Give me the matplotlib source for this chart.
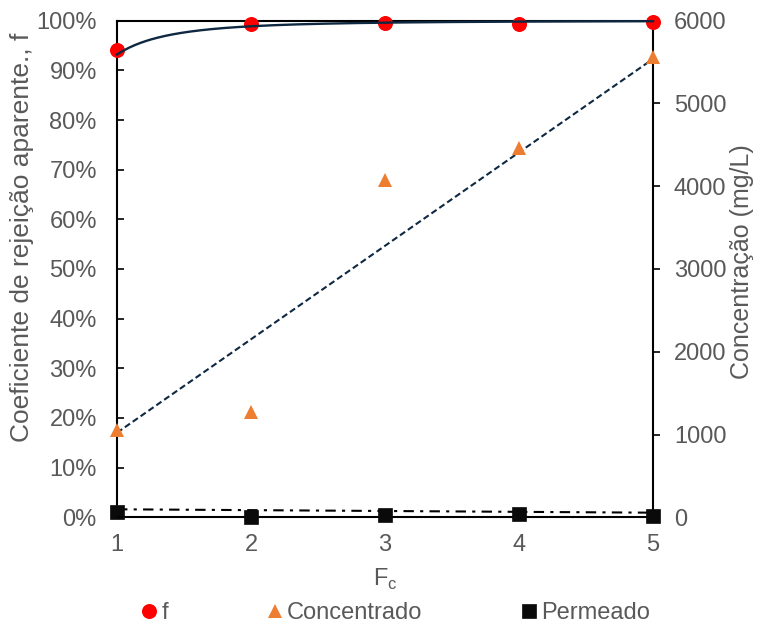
import numpy as np
import matplotlib
matplotlib.use("Agg")
import matplotlib.pyplot as plt
from matplotlib.lines import Line2D

plt.rcParams["font.family"] = ["Liberation Sans", "DejaVu Sans"]
plt.rcParams["mathtext.fontset"] = "custom"
plt.rcParams["mathtext.rm"] = "Liberation Sans"

# --- data -------------------------------------------------------------
fc = [1, 2, 3, 4, 5]
rejeicao_f = [0.941, 0.993, 0.996, 0.993, 0.998]       # left axis (fraction)
concentrado = [1050, 1270, 4075, 4460, 5565]          # mg/L, right axis
permeado = [62, 8, 28, 34, 18]                         # mg/L, right axis

# trendline coefficients
f_trend_a, f_trend_n = 0.068, 2.6          # f = 1 - a * Fc**(-n)
conc_trend_slope, conc_trend_icpt = 1129.0, -107.0
perm_trend_slope, perm_trend_icpt = -10.25, 107.0

pct_ticks = np.arange(0, 1.001, 0.1)
conc_ticks = np.arange(0, 6001, 1000)

# --- style ------------------------------------------------------------
GRAY = "#595959"
NAVY = "#0E2841"
RED = "#FF0000"
ORANGE = "#ED7D31"
BLACK_SQ = "#0A0A0A"
FS = 17

fig = plt.figure(figsize=(7.64, 6.30), dpi=100)
ax = fig.add_axes([117 / 764, 1 - 517.3 / 630, (653 - 117) / 764, (517.3 - 20.7) / 630])
ax2 = ax.twinx()
ax.set_zorder(2)
ax2.set_zorder(1)
ax.patch.set_visible(False)

xs = np.linspace(min(fc), max(fc), 300)

# right axis: concentrations
ax2.plot(xs, conc_trend_slope * xs + conc_trend_icpt, ls=(0, (3, 1.6)), lw=1.5,
         color=NAVY, zorder=2)
ax2.plot(xs, perm_trend_slope * xs + perm_trend_icpt, ls=(0, (5, 3, 1.5, 3)), lw=1.5,
         color="black", zorder=2)
ax2.plot(fc, concentrado, ls="none", marker="^", ms=10.6, mfc=ORANGE, mec=ORANGE,
         mew=0, clip_on=False, zorder=4)
ax2.plot(fc, permeado, ls="none", marker="s", ms=10.4, mfc=BLACK_SQ, mec=BLACK_SQ,
         mew=0.5, clip_on=False, zorder=4)

# left axis: rejection coefficient
ax.plot(fc, rejeicao_f, ls="none", marker="o", ms=10.8, mfc=RED, mec=RED, mew=0,
        clip_on=False, zorder=3)
ax.plot(xs, 1 - f_trend_a * xs ** (-f_trend_n), color=NAVY, lw=1.7,
        clip_on=False, zorder=5)

ax.set_xlim(1, 5)
ax.set_ylim(0, 1)
ax2.set_ylim(0, 6000)

ax.set_xticks(fc)
ax.set_xticklabels([str(v) for v in fc])
ax.set_yticks(pct_ticks)
ax.set_yticklabels([f"{int(round(v * 100))}%" for v in pct_ticks])
ax2.set_yticks(conc_ticks)
ax2.set_yticklabels([str(int(v)) for v in conc_ticks])

ax.tick_params(axis="x", length=0, pad=12, labelsize=FS, labelcolor=GRAY)
ax.tick_params(axis="y", direction="in", length=5, width=1.2, color="black",
               pad=14.5, labelsize=FS, labelcolor=GRAY)
ax2.tick_params(axis="y", direction="out", length=5, width=1.2, color="black",
                pad=10, labelsize=FS, labelcolor=GRAY)

for s in ["left", "right", "bottom"]:
    ax.spines[s].set_visible(False)
ax.spines["top"].set_linewidth(1.5)
ax2.spines["top"].set_visible(False)
for s in ["left", "right", "bottom"]:
    ax2.spines[s].set_linewidth(1.5)
    ax2.spines[s].set_color("black")

# axis titles
fig.text(22 / 764, 1 - 237 / 630, "Coeficiente de rejeição aparente., f", rotation=90,
         ha="center", va="center", fontsize=19, color=GRAY)
fig.text(742 / 764, 1 - 262 / 630, "Concentração (mg/L)", rotation=90,
         ha="center", va="center", fontsize=18, color=GRAY)
fig.text(385 / 764, 1 - 579 / 630, r"F$_\mathregular{c}$", ha="center", va="center",
         fontsize=FS, color=GRAY)

handles = [
    Line2D([], [], ls="none", marker="o", ms=10.8, mfc=RED, mec=RED, mew=0),
    Line2D([], [], ls="none", marker="^", ms=10.6, mfc=ORANGE, mec=ORANGE, mew=0),
    Line2D([], [], ls="none", marker="s", ms=10.4, mfc=BLACK_SQ, mec=BLACK_SQ, mew=0.5),
]
leg = fig.legend(handles, ["f", "Concentrado", "Permeado"], ncol=3, frameon=False,
                 loc="center", bbox_to_anchor=(395.5 / 764, 1 - 613 / 630),
                 fontsize=FS, handlelength=0.7, handletextpad=0.17,
                 columnspacing=4.17, borderpad=0, borderaxespad=0)
for t in leg.get_texts():
    t.set_color(GRAY)

fig.savefig("out.png", dpi=100, facecolor="white")
